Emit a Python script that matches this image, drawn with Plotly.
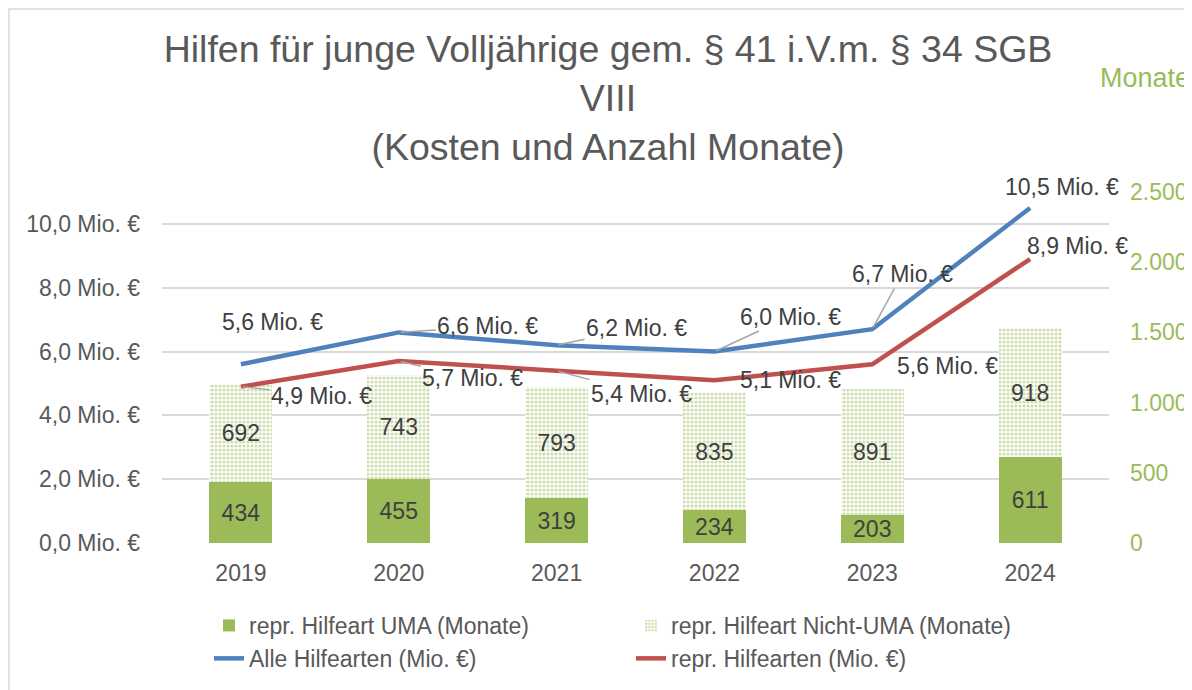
import plotly.graph_objects as go

years = ["2019", "2020", "2021", "2022", "2023", "2024"]
uma_months = [434, 455, 319, 234, 203, 611]
non_uma_months = [692, 743, 793, 835, 891, 918]
all_cost = [5.6, 6.6, 6.2, 6.0, 6.7, 10.5]
repr_cost = [4.9, 5.7, 5.4, 5.1, 5.6, 8.9]
left_ticks = [0, 2, 4, 6, 8, 10]
right_ticks = [0, 500, 1000, 1500, 2000, 2500]

# label placement (pixel offsets from points) and leader-line flags (styling)
all_offsets = [(32, -42, False), (89, -6, True), (80, -17, True), (76, -35, True), (30, -55, True), (32, -21, False)]
repr_offsets = [(81, 9, True), (74, 17, True), (85, 23, True), (76, 0, False), (75, 2, False), (47, -13, False)]

FONT = "Liberation Sans, Arial, sans-serif"
GREEN = "#9BBB59"
BLUE = "#4F81BD"
RED = "#C0504D"
TXT = "#595959"
LBL = "#404040"

fig = go.Figure()
fig.add_trace(go.Bar(
    x=years, y=uma_months, name="repr. Hilfeart UMA (Monate)",
    marker=dict(color=GREEN, line=dict(width=0)),
    text=[str(v) for v in uma_months], textposition="inside", insidetextanchor="middle",
    textfont=dict(size=23, color=LBL, family=FONT), yaxis="y", width=0.4,
    constraintext="none",
))
fig.add_trace(go.Bar(
    x=years, y=non_uma_months, name="repr. Hilfeart Nicht-UMA (Monate)",
    marker=dict(color="white", line=dict(width=0),
                pattern=dict(shape=".", fgcolor=GREEN, bgcolor="white", size=4, solidity=0.5, fillmode="overlay")),
    text=[str(v) for v in non_uma_months], textposition="inside", insidetextanchor="middle",
    textfont=dict(size=23, color=LBL, family=FONT), yaxis="y", width=0.4,
    constraintext="none",
))
fig.add_trace(go.Scatter(
    x=years, y=all_cost, name="Alle Hilfearten (Mio. €)", mode="lines",
    line=dict(color=BLUE, width=4.5), yaxis="y2",
))
fig.add_trace(go.Scatter(
    x=years, y=repr_cost, name="repr. Hilfearten (Mio. €)", mode="lines",
    line=dict(color=RED, width=4.5), yaxis="y2",
))

def fmt(v):
    return f"{v:.1f}".replace(".", ",") + " Mio. €"

# The page body adds an 8px offset; margins compensate for it.
W, H = 1192, 690
PL, PR, PT, PB = 154, 91, 184, 155
pw, ph = W - PL - PR, H - PT - PB
PAGE_LEFT, PAGE_BOTTOM = 162, 543

def px(x):
    return (x - PAGE_LEFT) / pw

def py(y):
    return (PAGE_BOTTOM - y) / ph

annotations = []
for vals, offs in ((all_cost, all_offsets), (repr_cost, repr_offsets)):
    for i, (v, (ax, ay, lead)) in enumerate(zip(vals, offs)):
        annotations.append(dict(
            x=i, y=v, xref="x", yref="y2", text=fmt(v), showarrow=True,
            arrowhead=0, arrowwidth=1.5, standoff=2,
            arrowcolor="#A6A6A6" if lead else "rgba(0,0,0,0)",
            ax=ax, ay=ay, font=dict(size=23, color=LBL, family=FONT),
        ))
annotations.append(dict(
    x=px(1098), y=py(78), xref="paper", yref="paper", text="Monate", showarrow=False,
    font=dict(size=27, color=GREEN, family=FONT), xanchor="left", yanchor="middle",
))

fig.update_layout(
    width=W, height=H,
    margin=dict(l=PL, r=PR, t=PT, b=PB, autoexpand=False),
    paper_bgcolor="white", plot_bgcolor="white",
    separators=",.",
    barmode="stack", bargap=0.6,
    font=dict(family=FONT, color=TXT, size=23),
    title=dict(
        text="Hilfen für junge Volljährige gem. § 41 i.V.m. § 34 SGB<br>VIII<br>(Kosten und Anzahl Monate)",
        x=600 / W, xanchor="center", y=1 - 54 / H, yanchor="top",
        font=dict(size=37.5, color=TXT, family=FONT),
    ),
    xaxis=dict(type="category", range=[-0.5, 5.5], showgrid=False, showline=False, ticks="",
               tickfont=dict(size=23, color=TXT), ticklabelstandoff=14),
    yaxis=dict(side="right", range=[0, 2500], tickvals=right_ticks, tickformat=",d",
               showgrid=False, zeroline=False, showline=False, ticks="",
               tickfont=dict(size=23, color=GREEN), ticklabelstandoff=20),
    yaxis2=dict(side="left", overlaying="y", range=[0, 11], tickvals=left_ticks,
                ticktext=[fmt(v) for v in left_ticks],
                showgrid=True, gridcolor="#D9D9D9", gridwidth=1.5, zeroline=False,
                showline=False, ticks="", tickfont=dict(size=23, color=TXT), ticklabelstandoff=21),
    legend=dict(orientation="h", x=px(209), y=py(604),
                xanchor="left", yanchor="top", entrywidth=377, entrywidthmode="pixels",
                font=dict(size=23, color=TXT), traceorder="normal", bgcolor="rgba(0,0,0,0)"),
    annotations=annotations,
    showlegend=True,
)
fig.add_shape(type="rect", xref="paper", yref="paper",
              x0=px(9), y0=py(1000), x1=px(1300), y1=py(9),
              line=dict(color="#D9D9D9", width=1.5), layer="below")

fig.write_html("out.html")
